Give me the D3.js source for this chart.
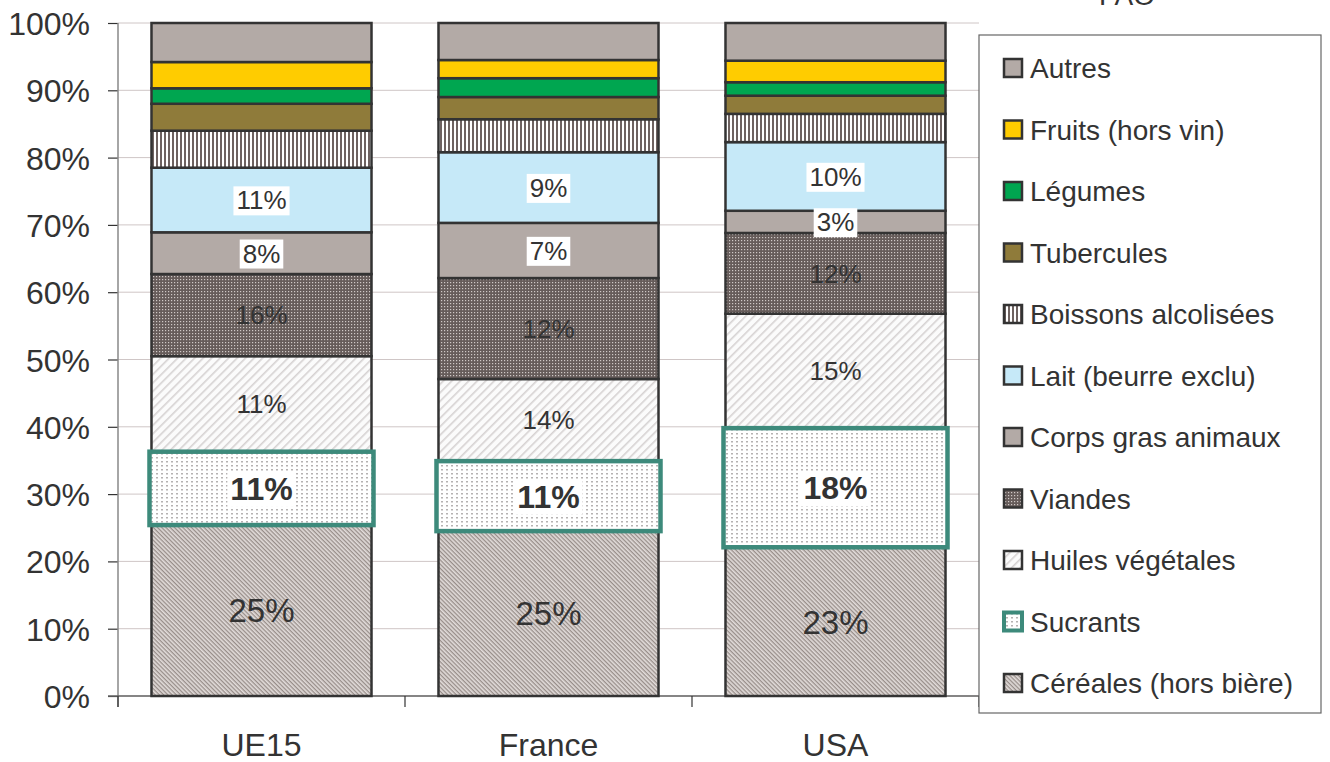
<!DOCTYPE html>
<html>
<head>
<meta charset="utf-8">
<script src="https://cdn.jsdelivr.net/npm/d3@7"></script>
<style>
  body { margin: 0; background: #fff; }
  svg text { font-family: "Liberation Sans", Arial, sans-serif; fill: #333; }
</style>
</head>
<body>
<div id="chart"></div>
<script>
// categories and series
var categories = ["UE15", "France", "USA"];
var seriesNames = ["Céréales (hors bière)", "Sucrants", "Huiles végétales", "Viandes",
  "Corps gras animaux", "Lait (beurre exclu)", "Boissons alcolisées", "Tubercules",
  "Légumes", "Fruits (hors vin)", "Autres"];

// share of each series, in %, per category (UE15, France, USA)
var cereales   = [25.4, 24.5, 22.1];
var sucrants   = [10.9, 10.4, 17.7];
var huiles     = [14.2, 12.2, 17.0];
var viandes    = [12.2, 15.0, 12.0];
var corpsGras  = [6.2, 8.2, 3.3];
var lait       = [9.6, 10.5, 10.2];
var boissons   = [5.5, 4.9, 4.2];
var tubercules = [4.0, 3.3, 2.7];
var legumes    = [2.3, 2.8, 2.0];
var fruits     = [3.9, 2.7, 3.2];
var autres     = [5.8, 5.5, 5.6];

// data labels as printed on the chart
var cerealesLabels  = ["25%", "25%", "23%"];
var sucrantsLabels  = ["11%", "11%", "18%"];
var huilesLabels    = ["11%", "14%", "15%"];
var viandesLabels   = ["16%", "12%", "12%"];
var corpsGrasLabels = ["8%", "7%", "3%"];
var laitLabels      = ["11%", "9%", "10%"];

var yTicks = [0, 10, 20, 30, 40, 50, 60, 70, 80, 90, 100];
var sourceText = "FAO";

var allValues = [cereales, sucrants, huiles, viandes, corpsGras, lait, boissons, tubercules, legumes, fruits, autres];
var allLabels = [cerealesLabels, sucrantsLabels, huilesLabels, viandesLabels, corpsGrasLabels, laitLabels];

var width = 1330, height = 762;
var svg = d3.select("#chart").append("svg")
    .attr("width", width)
    .attr("height", height);

var defs = svg.append("defs");

// céréales: fine diagonal hatch
var p = defs.append("pattern").attr("id", "p-cer").attr("patternUnits", "userSpaceOnUse")
  .attr("width", 3).attr("height", 3).attr("patternTransform", "rotate(45)");
p.append("rect").attr("width", 3).attr("height", 3).attr("fill", "#e2dcda");
p.append("rect").attr("width", 3).attr("height", 1.3).attr("fill", "#978d89");

// sucrants: small dashes on white
p = defs.append("pattern").attr("id", "p-suc").attr("patternUnits", "userSpaceOnUse")
  .attr("width", 5).attr("height", 4);
p.append("rect").attr("width", 5).attr("height", 4).attr("fill", "#fff");
p.append("rect").attr("x", 1).attr("y", 1).attr("width", 2).attr("height", 1.5).attr("fill", "#b5b2b2");

// huiles: light diagonal lines
p = defs.append("pattern").attr("id", "p-hui").attr("patternUnits", "userSpaceOnUse")
  .attr("width", 6).attr("height", 6).attr("patternTransform", "rotate(-45)");
p.append("rect").attr("width", 6).attr("height", 6).attr("fill", "#fbfbfb");
p.append("rect").attr("width", 6).attr("height", 1.6).attr("fill", "#d6d2d2");

// viandes: dark dotted grid
p = defs.append("pattern").attr("id", "p-via").attr("patternUnits", "userSpaceOnUse")
  .attr("width", 3).attr("height", 3);
p.append("rect").attr("width", 3).attr("height", 3).attr("fill", "#665c5a");
p.append("rect").attr("width", 1.2).attr("height", 1.2).attr("fill", "#cfc8c6");

// boissons: vertical stripes
p = defs.append("pattern").attr("id", "p-boi").attr("patternUnits", "userSpaceOnUse")
  .attr("width", 4).attr("height", 4);
p.append("rect").attr("width", 4).attr("height", 4).attr("fill", "#fff");
p.append("rect").attr("width", 2).attr("height", 4).attr("fill", "#6e6260");

var fills = ["url(#p-cer)", "url(#p-suc)", "url(#p-hui)", "url(#p-via)", "#b3aaa6",
  "#c6e9f8", "url(#p-boi)", "#8f7b3a", "#00a650", "#ffcc00", "#b3aaa6"];

// scales
var x = d3.scaleBand()
  .domain(categories)
  .range([118, 979])
  .paddingInner(0.2334)
  .paddingOuter(0.1167);

var y = d3.scaleLinear()
  .domain([0, 100])
  .range([696, 23]);

// gridlines
svg.append("g")
  .selectAll("line")
  .data(yTicks)
  .enter().append("line")
    .attr("x1", 118).attr("x2", 979)
    .attr("y1", function(d) { return y(d); })
    .attr("y2", function(d) { return y(d); })
    .attr("stroke", "#cfc6c6")
    .attr("stroke-width", 1);

// Y axis
var yAxis = svg.append("g")
  .attr("transform", "translate(118,0)")
  .call(d3.axisLeft(y).tickValues(yTicks).tickSize(10).tickPadding(18)
        .tickFormat(function(d) { return d + "%"; }));
yAxis.select(".domain").remove();
yAxis.selectAll(".tick line").attr("stroke", "#333").attr("stroke-width", 1.2);
yAxis.selectAll("text").style("font-size", "32px").attr("fill", "#333").attr("dy", "0.36em");
svg.append("line").attr("x1", 118).attr("x2", 118).attr("y1", 23).attr("y2", 707)
  .attr("stroke", "#888").attr("stroke-width", 1.5);

// X axis
svg.append("line").attr("x1", 108).attr("x2", 979).attr("y1", 696).attr("y2", 696)
  .attr("stroke", "#666").attr("stroke-width", 1.5);
var step = x.step();
var bounds = categories.map(function(c) { return x(c) - step * x.paddingInner() / 2; });
bounds.push(bounds[bounds.length - 1] + step);
svg.append("g").selectAll("line").data(bounds).enter().append("line")
  .attr("x1", function(d) { return d; }).attr("x2", function(d) { return d; })
  .attr("y1", 696).attr("y2", 707)
  .attr("stroke", "#333").attr("stroke-width", 1.2);
svg.append("g").selectAll("text").data(categories).enter().append("text")
  .attr("x", function(d) { return x(d) + x.bandwidth() / 2; })
  .attr("y", 756)
  .attr("text-anchor", "middle")
  .style("font-size", "32px")
  .text(function(d) { return d; });

// stacked data
var table = categories.map(function(c, i) {
  var row = { cat: c };
  seriesNames.forEach(function(s, j) { row[s] = allValues[j][i]; });
  return row;
});
var stacked = d3.stack().keys(seriesNames)(table);

var bars = svg.append("g");
stacked.forEach(function(layer, j) {
  if (j === 1) return; // sucrants drawn last with its own border
  bars.selectAll(".s" + j).data(layer).enter().append("rect")
    .attr("x", function(d) { return x(d.data.cat); })
    .attr("width", x.bandwidth())
    .attr("y", function(d) { return y(d[1]); })
    .attr("height", function(d) { return y(d[0]) - y(d[1]); })
    .attr("fill", fills[j])
    .attr("stroke", "#333")
    .attr("stroke-width", 2.5);
});
bars.selectAll(".suc").data(stacked[1]).enter().append("rect")
  .attr("x", function(d) { return x(d.data.cat) - 2; })
  .attr("width", x.bandwidth() + 4)
  .attr("y", function(d) { return y(d[1]); })
  .attr("height", function(d) { return y(d[0]) - y(d[1]); })
  .attr("fill", fills[1])
  .attr("stroke", "#3d8a7b")
  .attr("stroke-width", 4.5);

// data labels
var labelStyle = [
  { size: 33, weight: "normal", box: false },
  { size: 32, weight: "bold", box: true },
  { size: 26, weight: "normal", box: false },
  { size: 26, weight: "normal", box: false },
  { size: 26, weight: "normal", box: true },
  { size: 26, weight: "normal", box: true }
];
var labels = svg.append("g");
allLabels.forEach(function(lab, j) {
  var st = labelStyle[j];
  stacked[j].forEach(function(d, i) {
    var cx = x(d.data.cat) + x.bandwidth() / 2;
    var cy = (y(d[0]) + y(d[1])) / 2;
    var g = labels.append("g");
    var t = g.append("text")
      .attr("x", cx).attr("y", cy)
      .attr("dy", "0.36em")
      .attr("text-anchor", "middle")
      .style("font-size", st.size + "px")
      .style("font-weight", st.weight)
      .text(lab[i]);
    if (st.box) {
      var bb = t.node().getBBox();
      g.insert("rect", "text")
        .attr("x", bb.x - 3).attr("y", bb.y + 1)
        .attr("width", bb.width + 6).attr("height", bb.height - 1)
        .attr("fill", "#fff");
    }
  });
});

// legend
var legend = svg.append("g");
legend.append("rect").attr("x", 979).attr("y", 35).attr("width", 342).attr("height", 678)
  .attr("fill", "#fff").attr("stroke", "#666").attr("stroke-width", 1.2);
var legendOrder = d3.range(seriesNames.length).reverse();
legendOrder.forEach(function(j, k) {
  var cy = 68 + k * 61.5;
  if (j === 1) {
    legend.append("rect").attr("x", 1004).attr("y", cy - 9).attr("width", 18).attr("height", 18)
      .attr("fill", fills[j]).attr("stroke", "#3d8a7b").attr("stroke-width", 4);
  } else {
    legend.append("rect").attr("x", 1004).attr("y", cy - 9).attr("width", 18).attr("height", 18)
      .attr("fill", fills[j]).attr("stroke", "#333").attr("stroke-width", 2.5);
  }
  legend.append("text").attr("x", 1030).attr("y", cy).attr("dy", "0.36em")
    .style("font-size", "28px")
    .text(seriesNames[j]);
});

// source, cut at the top as in the original
svg.append("text").attr("x", 1127).attr("y", 5).attr("text-anchor", "middle")
  .style("font-size", "28px").text(sourceText);
</script>
</body>
</html>
